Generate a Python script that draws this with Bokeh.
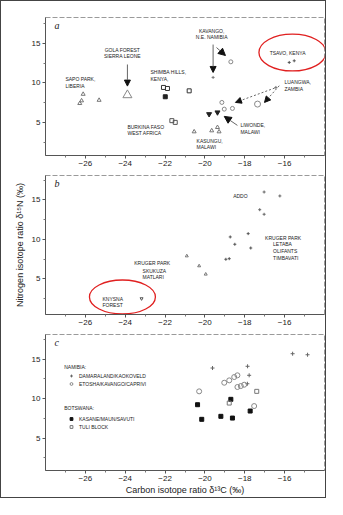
from bokeh.plotting import figure
from bokeh.layouts import column
from bokeh.models import (Arrow, NormalHead, FixedTicker, CustomJSTickFormatter,
                          Legend, LegendItem)
from bokeh.core.properties import value
from bokeh.embed import file_html
from bokeh.resources import INLINE

FONT = "Liberation Sans"

# ---------------- data: panel a ----------------
sapo_x = [-26.11, -26.19, -26.28, -25.31]
sapo_y = [8.58, 7.75, 7.41, 7.82]
gola_x = [-23.89]
gola_y = [8.46]
shimba_open_x = [-22.08, -21.88, -20.79]
shimba_open_y = [9.43, 9.30, 9.00]
shimba_fill_x = [-21.99]
shimba_fill_y = [8.25]
burkina_x = [-21.66, -21.49]
burkina_y = [5.22, 5.00]
kasungu_x = [-20.54, -19.66, -19.37, -19.29]
kasungu_y = [3.82, 3.95, 4.37, 3.82]
liwonde_x = [-19.79, -19.37]
liwonde_y = [6.05, 6.27]
luangwa_x = [-19.15, -19.03, -18.62, -17.36, -16.44]
luangwa_y = [7.53, 6.68, 6.77, 7.32, 9.43]
kavango_x = [-18.70, -19.59]
kavango_y = [12.68, 10.70]
tsavo_x = [-15.77, -15.52]
tsavo_y = [12.60, 12.81]

# ---------------- data: panel b ----------------
addo_x = [-17.03, -16.24, -17.25, -17.03]
addo_y = [16.01, 15.51, 13.77, 13.19]
kruger_n_x = [-18.73, -17.83, -18.50, -17.70, -18.95, -18.78]
kruger_n_y = [10.32, 10.74, 9.39, 8.92, 7.49, 7.57]
kruger_s_x = [-20.91, -20.29, -19.96]
kruger_s_y = [7.91, 6.65, 5.60]
knysna_x = [-23.18]
knysna_y = [2.51]

# ---------------- data: panel c ----------------
damara_x = [-17.86, -17.78, -17.87, -15.60, -14.85, -19.62]
damara_y = [14.08, 12.94, 11.87, 15.67, 15.54, 13.86]
etosha_x = [-19.03, -18.78, -18.53, -18.37, -18.37, -18.20, -18.03, -20.29, -17.53]
etosha_y = [12.00, 12.30, 12.72, 12.94, 11.46, 11.58, 11.75, 10.91, 9.05]
kasane_x = [-18.70, -20.37, -17.73, -19.20, -18.62, -20.16]
kasane_y = [9.90, 9.22, 8.42, 7.75, 7.53, 7.37]
tuli_x = [-17.40, -18.78]
tuli_y = [10.91, 9.43]

x_ticks = [-26, -24, -22, -20, -18, -16]
x_minor = [-27, -25, -23, -21, -19, -17, -15]
y_ticks = [5, 10, 15]
y_minor = [2.5, 7.5, 12.5, 17.5]

# label texts (annotation positions in data units)
labels_a = [
    ("KAVANGO,", -19.66, 16.65, "center"), ("N.E. NAMIBIA", -19.66, 15.89, "center"),
    ("TSAVO, KENYA", -15.85, 13.86, "center"),
    ("GOLA FOREST", -24.14, 14.24, "center"), ("SIERRA LEONE", -24.14, 13.45, "center"),
    ("SAPO PARK,", -27.0, 10.44, "left"), ("LIBERIA", -27.0, 9.56, "left"),
    ("SHIMBA HILLS,", -22.73, 11.33, "left"), ("KENYA,", -22.73, 10.44, "left"),
    ("LUANGWA,", -16.01, 10.06, "left"), ("ZAMBIA", -16.01, 9.18, "left"),
    ("BURKINA FASO", -23.89, 4.37, "left"), ("WEST AFRICA", -23.89, 3.61, "left"),
    ("LIWONDE,", -18.22, 4.62, "left"), ("MALAWI", -18.22, 3.73, "left"),
    ("KASUNGU,", -20.42, 2.60, "left"), ("MALAWI", -20.42, 1.84, "left"),
]
labels_b = [
    ("ADDO", -18.22, 15.47, "center"),
    ("KRUGER PARK", -16.98, 10.23, "left"), ("LETABA", -16.58, 9.37, "left"),
    ("OLIFANTS", -16.58, 8.52, "left"), ("TIMBAVATI", -16.58, 7.66, "left"),
    ("KRUGER PARK", -23.55, 7.03, "left"), ("SKUKUZA", -23.13, 6.05, "left"),
    ("MATLARI", -23.13, 5.25, "left"),
    ("KNYSNA", -25.14, 2.51, "left"), ("FOREST", -25.14, 1.71, "left"),
]
labels_c = [("NAMIBIA:", -27.06, 13.99, "left"), ("BOTSWANA:", -27.06, 8.80, "left")]


def make(height, yr, top, bottom):
    p = figure(width=324, height=height, x_range=(-28, -14), y_range=yr,
               output_backend="svg", toolbar_location=None,
               min_border_left=44, min_border_right=1,
               min_border_top=top, min_border_bottom=bottom)
    p.xgrid.visible = False
    p.ygrid.visible = False
    p.outline_line_color = "#9a9a9a"
    p.outline_line_dash = "5 2"
    p.outline_line_width = 1
    p.xaxis.ticker = FixedTicker(ticks=x_ticks, minor_ticks=x_minor)
    p.yaxis.ticker = FixedTicker(ticks=y_ticks, minor_ticks=y_minor)
    p.xaxis.formatter = CustomJSTickFormatter(
        code="return tick < 0 ? '\u2212' + Math.abs(tick) : '' + tick;")
    for ax in (p.xaxis, p.yaxis):
        ax.axis_line_color = "#555"
        ax.major_tick_line_color = "#555"
        ax.minor_tick_line_color = "#777"
        ax.major_tick_out = 3
        ax.major_tick_in = 0
        ax.minor_tick_out = 2
        ax.minor_tick_in = 0
        ax.major_label_text_font = FONT
        ax.major_label_text_font_size = "8px"
        ax.major_label_text_color = "#222"
        ax.major_label_standoff = 2
    return p


def add_labels(p, labels, size="5px"):
    for t, x, y, al in labels:
        p.text(x=[x], y=[y], text=[t], text_font=value(FONT), text_font_size=size,
               text_color="#222", text_align=al, text_baseline="middle")


def letter(p, ch, y):
    p.text(x=[-27.55], y=[y], text=[ch], text_font=value("Liberation Serif"),
           text_font_style="italic", text_font_size="10px", text_color="#222",
           text_baseline="middle")


def arrow(p, x0, y0, x1, y1, dash="solid", size=6):
    p.add_layout(Arrow(end=NormalHead(size=size, fill_color="#111", line_color="#111"),
                       x_start=x0, y_start=y0, x_end=x1, y_end=y1,
                       line_color="#666", line_width=1, line_dash=dash))


# ---------------- panel a ----------------
pa = make(169, (0.8, 18.3), 16, 15)
pa.scatter(sapo_x, sapo_y, marker="triangle", size=4, fill_color=None, line_color="#777")
pa.scatter(gola_x, gola_y, marker="triangle", size=9, fill_color=None, line_color="#888")
pa.scatter(shimba_open_x, shimba_open_y, marker="square", size=4, fill_color=None, line_color="#333")
pa.scatter(shimba_fill_x, shimba_fill_y, marker="square", size=4, fill_color="#222", line_color="#222")
pa.scatter(burkina_x, burkina_y, marker="square", size=4, fill_color=None, line_color="#555")
pa.scatter(kasungu_x, kasungu_y, marker="triangle", size=4, fill_color=None, line_color="#777")
pa.scatter(liwonde_x, liwonde_y, marker="inverted_triangle", size=5, fill_color="#222", line_color="#222")
pa.scatter(luangwa_x[:3], luangwa_y[:3], marker="circle", size=4, fill_color=None, line_color="#888")
pa.scatter(luangwa_x[3:4], luangwa_y[3:4], marker="circle", size=6, fill_color=None, line_color="#888")
pa.scatter(luangwa_x[4:], luangwa_y[4:], marker="cross", size=3, line_color="#777")
pa.scatter(kavango_x[:1], kavango_y[:1], marker="circle", size=4, fill_color=None, line_color="#888")
pa.scatter(kavango_x[1:], kavango_y[1:], marker="cross", size=3, line_color="#777")
pa.scatter(tsavo_x, tsavo_y, marker="cross", size=3, line_color="#555")
pa.ellipse(x=[-15.61], y=[13.86], width=[3.36], height=[4.68], fill_color=None,
           line_color="#e02020", line_width=1.3)
arrow(pa, -23.89, 12.34, -23.89, 9.6)
arrow(pa, -19.59, 14.87, -19.59, 11.33)
arrow(pa, -19.42, 14.49, -18.97, 13.48, size=7)
arrow(pa, -16.5, 9.35, -18.47, 7.53, dash="2 2")
arrow(pa, -16.27, 9.65, -17.01, 7.53, dash="2 2")
arrow(pa, -18.37, 4.62, -19.03, 5.76, size=7)
add_labels(pa, labels_a)
letter(pa, "a", 17.28)

# ---------------- panel b ----------------
pb = make(159, (0.5, 18.1), 5, 15)
pb.scatter(addo_x, addo_y, marker="cross", size=3, line_color="#666")
pb.scatter(kruger_n_x, kruger_n_y, marker="cross", size=3, line_color="#555")
pb.scatter(kruger_s_x, kruger_s_y, marker="triangle", size=3, fill_color=None, line_color="#777")
pb.scatter(knysna_x, knysna_y, marker="inverted_triangle", size=3, fill_color=None, line_color="#555")
pb.ellipse(x=[-24.14], y=[2.72], width=[3.31], height=[4.3], fill_color=None,
           line_color="#e02020", line_width=1.3)
add_labels(pb, labels_b)
letter(pb, "b", 17.03)
pb.yaxis.axis_label = "Nitrogen isotope ratio \u03b4\u00b9\u2075N (\u2030)"
pb.yaxis.axis_label_text_font = FONT
pb.yaxis.axis_label_text_font_size = "9px"
pb.yaxis.axis_label_text_font_style = "normal"
pb.yaxis.axis_label_text_color = "#222"
pb.yaxis.axis_label_standoff = 4

# ---------------- panel c ----------------
pc = make(168, (0.9, 18.1), 5, 27)
r_d = pc.scatter(damara_x, damara_y, marker="cross", size=4, line_color="#666")
r_e = pc.scatter(etosha_x, etosha_y, marker="circle", size=5, fill_color=None, line_color="#888")
r_k = pc.scatter(kasane_x, kasane_y, marker="square", size=4, fill_color="#111", line_color="#111")
r_t = pc.scatter(tuli_x, tuli_y, marker="square", size=4, fill_color=None, line_color="#777")
add_labels(pc, labels_c)
letter(pc, "c", 17.15)


def legend(items, loc):
    lg = Legend(items=[LegendItem(label=t, renderers=[r]) for t, r in items],
                location=loc, padding=0, margin=0, spacing=1, glyph_height=7,
                glyph_width=8, label_height=7, label_standoff=4,
                label_text_font=FONT, label_text_font_size="5px",
                label_text_color="#222", border_line_color=None,
                background_fill_alpha=0)
    pc.add_layout(lg)


legend([("DAMARALAND/KAOKOVELD", r_d), ("ETOSHA/KAVANGO/CAPRIVI", r_e)], (22, 83))
legend([("KASANE/MAUN/SAVUTI", r_k), ("TULI BLOCK", r_t)], (22, 40))
pc.xaxis.axis_label = "Carbon isotope ratio \u03b4\u00b9\u00b3C (\u2030)"
pc.xaxis.axis_label_text_font = FONT
pc.xaxis.axis_label_text_font_size = "9px"
pc.xaxis.axis_label_text_font_style = "normal"
pc.xaxis.axis_label_text_color = "#222"
pc.xaxis.axis_label_standoff = 1

layout = column(pa, pb, pc, spacing=0, styles={"border": "1.5px solid #444"})
open("out.html", "w").write(file_html(layout, INLINE))
